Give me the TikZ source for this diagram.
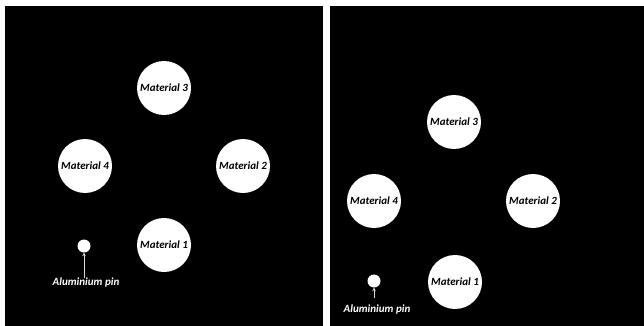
\documentclass[tikz,border=0pt]{standalone}
\usepackage{fontspec}
\setmainfont{Carlito}
\usepackage{tikz}
\usetikzlibrary{positioning,arrows.meta}

\begin{document}
\begin{tikzpicture}[
  x=1pt, y=-1pt,
  panel/.style={fill=black, draw=none},
  sample/.style={circle, fill=white, draw=none, minimum size=54pt, inner sep=0pt, font=\fontsize{11}{13}\selectfont\bfseries\itshape},
  pin/.style={circle, fill=white, draw=none, minimum size=13pt, inner sep=0pt},
  pinlabel/.style={text=white, inner sep=0.5pt, font=\fontsize{11}{13}\selectfont\bfseries\itshape},
  pinarrow/.style={draw=white!85!black, line width=0.9pt, -{Stealth[length=3.5pt, width=3.5pt]}}
]
  \useasboundingbox[fill=white] (0,0) rectangle (644,326);
  \fill[panel] (5,6) rectangle (323,326);
  \fill[panel] (330,6) rectangle (644,326);

  % left panel
  \node[sample] (lm3) at (164,88) {Material 3};
  \node[sample] (lm4) at (85,166) {Material 4};
  \node[sample] (lm2) at (243,166) {Material 2};
  \node[sample] (lm1) at (164,245) {Material 1};
  \node[pin] (lpin) at (84,246) {};
  \node[pinlabel] (lpintext) at (86,283) {Aluminium pin};
  \draw[pinarrow] (lpintext.north -| lpin) -- (lpin.south);

  % right panel
  \node[sample] (rm3) at (454,122) {Material 3};
  \node[sample] (rm4) at (374,201) {Material 4};
  \node[sample] (rm2) at (533,201) {Material 2};
  \node[sample] (rm1) at (455,282) {Material 1};
  \node[pin] (rpin) at (374,281) {};
  \node[pinlabel] (rpintext) at (377,310) {Aluminium pin};
  \draw[pinarrow, shorten <=7pt] (rpintext.north -| rpin) -- (rpin.south);
\end{tikzpicture}
\end{document}
